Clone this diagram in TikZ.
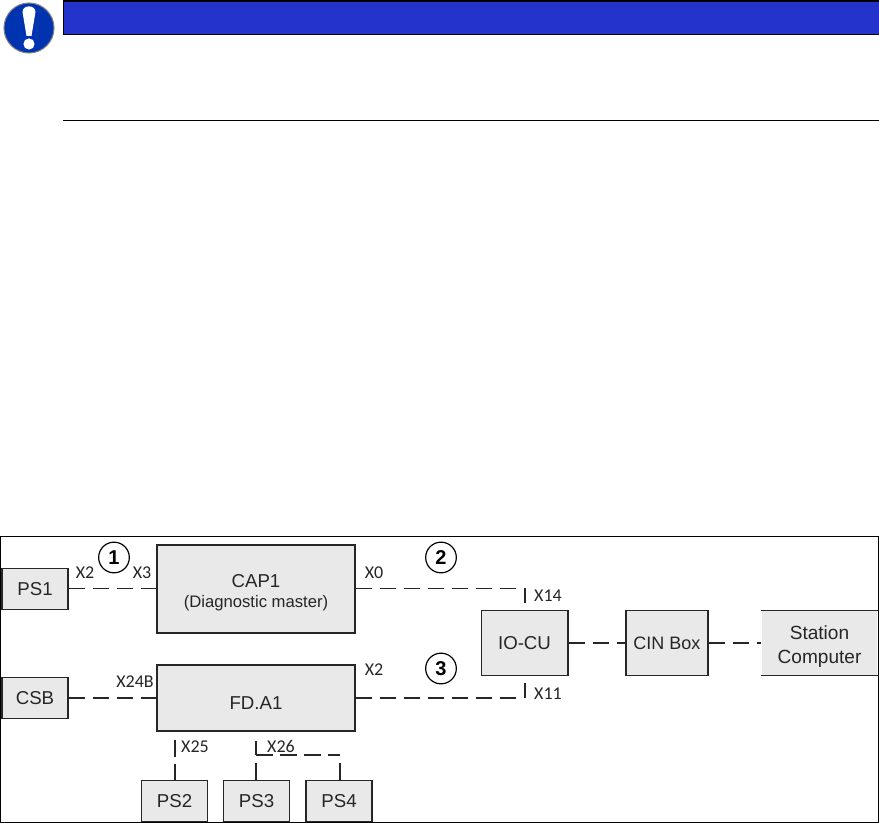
\documentclass[tikz,border=0pt]{standalone}
\usepackage{fontspec}
\setmainfont{Liberation Sans}
\newfontfamily\portfont{Carlito}
\definecolor{banner}{HTML}{2433CC}
\definecolor{badge}{HTML}{0033B0}
\definecolor{ink}{HTML}{262626}
\definecolor{panel}{HTML}{E9E9E9}

\begin{document}
\begin{tikzpicture}[
  x=.75pt, y=-.75pt,
  text=ink,
  unitbox/.style={draw=ink, line width=1pt, fill=panel, inner sep=0pt, align=center, font=\fontsize{14}{16}\selectfont},
  smallbox/.style={unitbox, minimum width=49.5pt, minimum height=31pt},
  midbox/.style={unitbox, minimum width=61.5pt, minimum height=48.8pt},
  bigbox/.style={unitbox, minimum width=148.5pt},
  link/.style={draw=ink, line width=.75pt, dash pattern=on 12.5pt off 5.5pt},
  heavylink/.style={link, line width=1.3pt},
  stub/.style={draw=ink, line width=1.3pt},
  port/.style={font=\portfont\fontsize{13.5}{15}\selectfont, inner sep=0pt},
  callout/.style={circle, draw=black, line width=.9pt, fill=white, minimum size=23pt, inner sep=0pt, font=\bfseries\fontsize{15}{17}\selectfont, text=black}
]
  \useasboundingbox (0,0) rectangle (879,823);
  \fill[white] (0,0) rectangle (879,823);

  \node[circle, draw=gray, line width=.8pt, fill=badge, minimum size=37.5pt, inner sep=0pt] (badge) at (29,28) {};
  \fill[white] (22.5,12) .. controls (22.5,4.5) and (35.5,4.5) .. (35.5,12) -- (31.5,36) -- (26.5,36) -- cycle;
  \fill[white] (29,44) circle (4.2pt);
  \node[draw=black, line width=.8pt, fill=banner, minimum width=612pt, minimum height=25pt, inner sep=0pt, anchor=north west] (bar) at (63,.5) {};
  \coordinate (ruleleft) at (63,120.5);
  \coordinate (ruleright) at (879,120.5);
  \draw[black, line width=.8pt] (ruleleft) -- (ruleright);

  \node[smallbox] (ps1) at (35,589) {PS1};
  \node[smallbox] (csb) at (35,698) {CSB};
  \node[bigbox, minimum height=66pt] (cap) at (256,589)
    {\rule{0pt}{16pt}\fontsize{14}{17}\selectfont CAP1\\[-1pt]{\fontsize{12.5}{15}\selectfont (Diagnostic master)}};
  \node[bigbox, minimum height=49.5pt, text height=17pt] (fda) at (256,698) {FD.A1};
  \node[smallbox] (ps2) at (174.5,801) {PS2};
  \node[smallbox] (ps3) at (256.5,801) {PS3};
  \node[smallbox] (ps4) at (339,801) {PS4};
  \node[midbox, minimum width=65pt] (iocu) at (524.5,643) {IO-CU};
  \node[midbox, font=\fontsize{13.5}{16}\selectfont] (cin) at (667,643) {CIN Box};
  \node[midbox, draw=none, minimum width=86.5pt, minimum height=48pt, font=\fontsize{14.3}{17}\selectfont] (station) at (819.5,643) {\rule{0pt}{16pt}Station\\[1pt]Computer};
  \draw[ink, line width=1pt] (station.north west) -- (station.north east);
  \draw[ink, line width=1pt] (station.south west) -- (station.south east);

  \node[callout] (one) at (114,557.5) {1};
  \node[callout] (two) at (441,557.5) {2};
  \node[callout] (three) at (441,668.5) {3};

  \coordinate (end14) at (516,589);
  \coordinate (stub14a) at (525,588);
  \coordinate (stub14b) at (525,603);
  \coordinate (end11) at (516,698);
  \coordinate (stub11a) at (525,683);
  \coordinate (stub11b) at (525,698);
  \coordinate (stub25a) at (175,740);
  \coordinate (stub25b) at (175,757);
  \coordinate (stub25c) at (175,764);
  \coordinate (corner26) at (256,755);
  \coordinate (stub26a) at (256,741);
  \coordinate (stub26b) at (256,763);
  \coordinate (end26) at (340,755);
  \coordinate (stub26c) at (340,763);

  \draw[link] (ps1.east) -- (cap.west);
  \draw[link] (cap.east) -- (end14);
  \draw[heavylink] (csb.east) -- (fda.west);
  \draw[heavylink] (fda.east) -- (end11);
  \draw[heavylink] (iocu.east) -- (cin.west);
  \draw[heavylink] (cin.east) -- (station.west);
  \draw[stub] (stub14a) -- (stub14b);
  \draw[stub] (stub11a) -- (stub11b);
  \draw[stub] (stub25a) -- (stub25b);
  \draw[stub] (stub25c) -- (ps2.north -| stub25c);
  \draw[stub] (stub26a) -- (corner26);
  \draw[heavylink] (corner26) -- (end26);
  \draw[stub] (stub26b) -- (ps3.north -| stub26b);
  \draw[stub] (stub26c) -- (ps4.north -| stub26c);

  \node[port] (x2a) at (85,573) {X2};
  \node[port] (x3) at (142,573) {X3};
  \node[port] (x0) at (374,573) {X0};
  \node[port] (x24b) at (135,682) {X24B};
  \node[port] (x2b) at (374,670) {X2};
  \node[port] (x25) at (195,747) {X25};
  \node[port] (x26) at (281,746) {X26};
  \node[port] (x14) at (548,596) {X14};
  \node[port] (x11) at (548,694) {X11};

  \node[draw=black, line width=.7pt, minimum width=658.5pt, minimum height=214.5pt, inner sep=0pt, anchor=north west] (frame) at (0,536) {};
\end{tikzpicture}
\end{document}
